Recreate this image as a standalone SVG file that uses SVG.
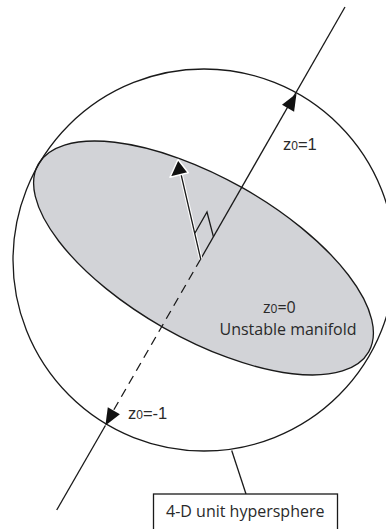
<svg xmlns="http://www.w3.org/2000/svg" width="386" height="529" viewBox="0 0 386 529">
<style>
.ln{fill:none;stroke:#1a1a1a;stroke-width:1.3}
.ah{fill:#111;stroke:none}
.lbl{font-family:"Liberation Sans",Arial,sans-serif;font-size:16.5px;fill:#2a2a2a}
.lbl2{font-family:"Open Sans","Noto Sans",sans-serif;font-size:16px;fill:#2a2a2a}
.sub{font-size:12px}
</style>
<rect width="386" height="529" fill="#fff"/>
<g id="manifold">
<ellipse cx="203.5" cy="258" rx="190" ry="80.3" transform="rotate(29.6 203.5 258)" fill="#d2d3d7" stroke="#1a1a1a" stroke-width="1.3"/>
</g>
<g id="hypersphere">
<circle cx="204" cy="260" r="191" class="ln"/>
</g>
<g id="connectors">
<line x1="345" y1="7" x2="200.7" y2="259" class="ln"/>
<line x1="200.7" y1="259" x2="112" y2="413" class="ln" stroke-dasharray="9 6"/>
<line x1="105.4" y1="425.5" x2="56.7" y2="510" class="ln"/>
<polygon class="ah" points="296.5,93.5 282,104.8 294.1,111.7"/>
<polygon class="ah" points="105.4,425.5 119.9,414.2 107.8,407.3"/>
<line x1="200.7" y1="259" x2="180.5" y2="172" stroke="#fff" stroke-width="3.5"/>
<line x1="200.7" y1="259" x2="180.5" y2="172" class="ln"/>
<polygon points="178,159.5 170,177.3 188.3,172.7" fill="#111" stroke="#fff" stroke-width="1.5" stroke-linejoin="round"/>
<polyline points="194.8,233.3 207,212 213.4,236.7" class="ln"/>
<line x1="231.7" y1="450.5" x2="246" y2="494" class="ln"/>
</g>
<g id="label-z1">
<text x="283" y="150" class="lbl">z<tspan class="sub">0</tspan>=1</text>
</g>
<g id="label-z0">
<text x="263" y="313" class="lbl2">z<tspan class="sub">0</tspan>=0</text>
<text x="288" y="335" class="lbl2" text-anchor="middle">Unstable manifold</text>
</g>
<g id="label-zm1">
<text x="128" y="419" class="lbl">z<tspan class="sub">0</tspan>=-1</text>
</g>
<g id="label-box">
<rect x="153.5" y="494" width="184" height="45" fill="#fff" stroke="#1a1a1a" stroke-width="1.3"/>
<text x="166" y="517" class="lbl2">4-D unit hypersphere</text>
</g>
</svg>
